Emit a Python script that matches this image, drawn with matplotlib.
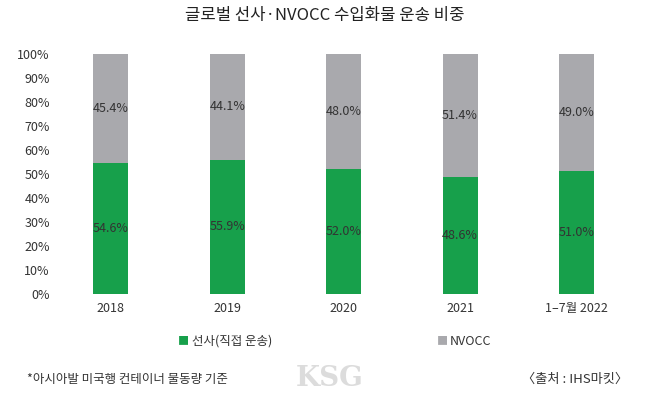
import numpy as np
import matplotlib.pyplot as plt

plt.rcParams['font.family'] = ['Noto Sans CJK KR', 'DejaVu Sans']

# data
years = ["2018", "2019", "2020", "2021", "1–7월 2022"]
carrier = [54.6, 55.9, 52.0, 48.6, 51.0]
nvocc = [45.4, 44.1, 48.0, 51.4, 49.0]
series_names = ["선사(직접 운송)", "NVOCC"]

green = "#17a04b"
gray = "#a9a9ad"
text_col = "#333333"

fig = plt.figure(figsize=(6.49, 3.96), dpi=100)
ax = fig.add_axes([0.081, 0.2576, 0.897, 0.607])

x = np.arange(len(years))
ax.bar(x, carrier, width=0.3, color=green, label=series_names[0])
ax.bar(x, nvocc, width=0.3, bottom=carrier, color=gray, label=series_names[1])

for i in range(len(years)):
    ax.text(x[i], carrier[i] / 2, "{:.1f}%".format(carrier[i]), ha="center", va="center",
            fontsize=9, color=text_col)
    ax.text(x[i], carrier[i] + nvocc[i] / 2, "{:.1f}%".format(nvocc[i]), ha="center", va="center",
            fontsize=9, color=text_col)

ax.set_xlim(-0.5, len(years) - 0.5)
ax.set_ylim(0, 100)
ax.set_yticks(np.arange(0, 101, 10))
ax.set_yticklabels(["{}%".format(v) for v in range(0, 101, 10)])
ax.set_xticks(x)
ax.set_xticklabels(years)
ax.tick_params(axis="both", length=0, labelsize=9, colors=text_col)
ax.tick_params(axis="y", pad=2)
ax.tick_params(axis="x", pad=6)
for s in ax.spines.values():
    s.set_visible(False)

fig.text(0.5, 0.962, "글로벌 선사·NVOCC 수입화물 운송 비중", ha="center", va="center",
         fontsize=12, color="#222222")

# legend
fig.text(0.274, 0.138, "■", ha="left", va="center", fontsize=8, color=green)
fig.text(0.296, 0.138, series_names[0], ha="left", va="center", fontsize=9, color=text_col)
fig.text(0.673, 0.138, "■", ha="left", va="center", fontsize=8, color=gray)
fig.text(0.693, 0.138, series_names[1], ha="left", va="center", fontsize=9, color=text_col)

# footer
fig.text(0.041, 0.042, "*아시아발 미국행 컨테이너 물동량 기준", ha="left", va="center",
         fontsize=9, color=text_col)
fig.text(0.968, 0.042, "〈출처 : IHS마킷〉", ha="right", va="center",
         fontsize=9.5, color=text_col)
fig.text(0.508, 0.045, "KSG", ha="center", va="center", fontsize=20, color="#dcdcdc",
         family="DejaVu Serif", fontweight="bold")

fig.savefig("out.png", dpi=100)
